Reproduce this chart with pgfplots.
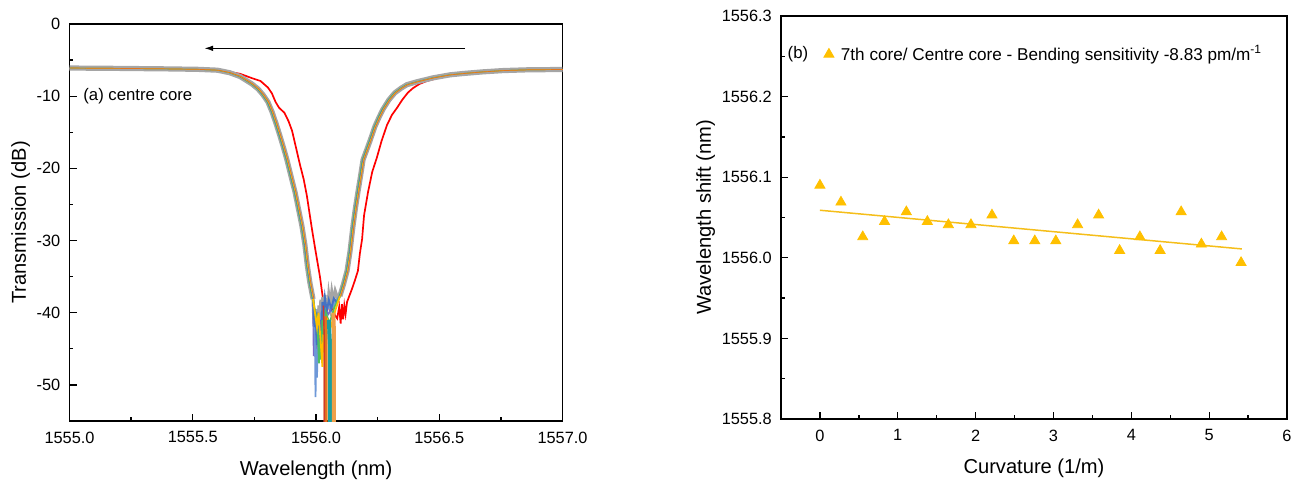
\documentclass[border=0pt]{standalone}
\usepackage{fontspec}
\setmainfont{Liberation Sans}
\usepackage{pgfplots}
\usepackage{pgfplotstable}
\pgfplotsset{compat=1.18}
\usetikzlibrary{arrows.meta}

\definecolor{cGray}{HTML}{A5A5A5}
\definecolor{cRed}{HTML}{FF0000}
\definecolor{cBlue}{HTML}{4472C4}
\definecolor{cLBlue}{HTML}{6E98D8}
\definecolor{cPurple}{HTML}{7A6BC6}
\definecolor{cGreen}{HTML}{4DBF5E}
\definecolor{cYellow}{HTML}{FFC000}
\definecolor{cOrange}{HTML}{E2761C}
\definecolor{cTeal}{HTML}{1A9E9E}
\definecolor{cLOrange}{HTML}{EFA04A}
\definecolor{cDRed}{HTML}{D03A2A}
\definecolor{cMark}{HTML}{FFC000}
\definecolor{cFit}{HTML}{F5BE1A}

\pgfplotsset{markonly legend/.style={legend image code/.code={\draw[##1] plot coordinates {(0bp,0bp)};}}}
\tikzset{majtick/.style={black, line width=0.65bp}}

% main group of spectra, left and right edge of the dip
\pgfplotstableread{
x y
1555.00 -6.10
1555.20 -6.15
1555.40 -6.22
1555.52 -6.28
1555.60 -6.40
1555.65 -6.75
1555.692 -7.28
1555.74 -8.3
1555.765 -9.0
1555.785 -9.8
1555.805 -10.8
1555.822 -12.2
1555.838 -13.8
1555.852 -15.3
1555.867 -17.0
1555.882 -18.8
1555.898 -21.0
1555.915 -23.3
1555.930 -25.8
1555.943 -28.0
1555.955 -30.6
1555.965 -33.5
1555.975 -35.8
1555.988 -38.1
}\leftedge
\pgfplotstableread{
x y
1556.097 -37.7
1556.112 -36.0
1556.126 -34.2
1556.138 -31.5
1556.150 -28.0
1556.160 -25.5
1556.170 -23.3
1556.181 -21.0
1556.191 -18.8
1556.205 -17.5
1556.219 -16.2
1556.239 -14.2
1556.256 -12.9
1556.272 -11.8
1556.296 -10.5
1556.320 -9.53
1556.345 -8.9
1556.369 -8.4
1556.410 -8.0
1556.475 -7.46
1556.544 -7.04
1556.600 -6.85
1556.677 -6.63
1556.760 -6.45
1556.856 -6.35
1557.00 -6.30
}\rightedge
% straight fibre (red)
\pgfplotstableread{
x y
1555.00 -6.12
1555.20 -6.17
1555.40 -6.22
1555.55 -6.28
1555.62 -6.45
1555.692 -6.9
1555.740 -7.5
1555.775 -7.9
1555.805 -8.8
1555.821 -9.6
1555.836 -10.8
1555.850 -11.6
1555.872 -12.3
1555.889 -13.5
1555.903 -14.8
1555.918 -17.0
1555.935 -19.5
1555.950 -21.5
1555.963 -23.8
1555.975 -26.5
1555.984 -28.5
1555.996 -31.0
1556.006 -33.0
1556.016 -35.0
1556.024 -37.0
1556.030 -38.5
1556.036 -39.1
1556.046 -38.6
1556.056 -39.7
1556.066 -39.2
1556.076 -40.3
1556.086 -40.8
1556.094 -39.2
1556.100 -41.5
1556.105 -38.8
1556.110 -40.9
1556.115 -39.0
1556.120 -40.2
1556.126 -38.5
1556.136 -37.6
1556.146 -36.7
1556.158 -35.5
1556.170 -34.2
1556.178 -31.8
1556.187 -29.8
1556.195 -26.5
1556.211 -23.3
1556.228 -20.5
1556.247 -18.5
1556.266 -16.2
1556.288 -14.0
1556.308 -12.6
1556.329 -11.6
1556.350 -10.5
1556.373 -9.5
1556.393 -8.9
1556.420 -8.3
1556.450 -7.9
1556.515 -7.3
1556.600 -6.95
1556.680 -6.70
1556.870 -6.45
1557.00 -6.30
}\redcurve

\begin{document}
\begin{tikzpicture}
\path[use as bounding box] (0,0) rectangle (646.5bp,-240.5bp);

\pgfplotsset{
  every axis/.append style={
    scale only axis,
    anchor=north west,
    /pgf/number format/assume math mode=true,
    tick pos=left,
    tick align=inside,
    major tick length=3.6bp,
    minor tick length=2bp,
    minor x tick num=1,
    minor y tick num=1,
    tick style={black, line width=0.65bp},
    axis line style={line width=0.65bp},
    tick label style={font=\fontsize{8.2}{9.8}\selectfont},
    label style={font=\fontsize{10.1}{12}\selectfont},
    yticklabel style={xshift=-1.1bp},
    xticklabel style={yshift=-1.8bp},
    xlabel style={yshift=-2bp},
    ylabel style={yshift=-3.5bp},
  },
}

% ---------------- (a) ----------------
\begin{axis}[
  at={(34.75bp,-12bp)},
  width=246.5bp, height=198.5bp,
  xmin=1555, xmax=1557, ymin=-55, ymax=0,
  xtick={1555,1555.5,1556,1556.5,1557},
  ytick={-50,-40,-30,-20,-10,0},
  xticklabel style={/pgf/number format/.cd, fixed, fixed zerofill, precision=1, 1000 sep={}},
  xlabel={Wavelength (nm)},
  ylabel={Transmission (dB)},
]
\addplot[cRed, line width=0.85bp] table {\redcurve};

% grey band
\addplot[cGray, line width=2.6bp] table {\leftedge};
\addplot[cGray, line width=2.6bp] table {\rightedge};
\addplot[cGray, line width=1.6bp] coordinates {
(1555.988,-38.1) (1555.992,-41.5) (1555.996,-39.5) (1556.000,-43.5) (1556.004,-40.2)
(1556.008,-42.8) (1556.012,-39.0) (1556.016,-41.0) (1556.020,-38.2) (1556.024,-40.5)
(1556.028,-37.8) (1556.032,-39.8) (1556.036,-37.5) (1556.040,-40.0) (1556.044,-38.0)
(1556.048,-39.5) (1556.052,-37.6) (1556.058,-39.0) (1556.064,-37.2) (1556.070,-38.5)
(1556.078,-37.0) (1556.086,-37.8) (1556.097,-37.7)};

% coloured strands inside the band
\addplot[cGreen, line width=0.35bp, xshift=-0.45bp] table {\leftedge};
\addplot[cGreen, line width=0.35bp, xshift=-0.45bp] table {\rightedge};
\addplot[cBlue, line width=0.35bp, xshift=-0.15bp] table {\leftedge};
\addplot[cBlue, line width=0.35bp, xshift=-0.15bp] table {\rightedge};
\addplot[cYellow, line width=0.35bp, xshift=0.15bp] table {\leftedge};
\addplot[cYellow, line width=0.35bp, xshift=0.15bp] table {\rightedge};
\addplot[cOrange, line width=0.35bp, xshift=0.45bp] table {\leftedge};
\addplot[cOrange, line width=0.35bp, xshift=0.45bp] table {\rightedge};

% noisy bottom of the dip
\addplot[cPurple, line width=0.9bp] coordinates {
(1555.988,-38.1) (1555.991,-46.0) (1555.994,-41.5) (1555.997,-45.2) (1556.002,-40.5)
(1556.006,-46.5) (1556.010,-41.0) (1556.018,-42.5) (1556.030,-39.5) (1556.050,-40.2)
(1556.070,-38.8) (1556.097,-37.7)};
\addplot[cLBlue, line width=0.9bp] coordinates {
(1555.988,-38.1) (1555.996,-44.0) (1555.998,-51.7) (1556.001,-45.0) (1556.004,-49.0)
(1556.008,-42.0) (1556.014,-44.5) (1556.020,-40.5) (1556.030,-41.5) (1556.040,-39.0)
(1556.060,-39.5) (1556.080,-38.4) (1556.097,-37.7)};
\addplot[cBlue, line width=0.9bp] coordinates {
(1555.988,-38.1) (1555.994,-42.0) (1555.998,-39.5) (1556.003,-44.5) (1556.007,-40.0)
(1556.012,-45.5) (1556.016,-41.0) (1556.022,-43.0) (1556.026,-38.5) (1556.030,-40.5)
(1556.036,-37.8) (1556.044,-39.8) (1556.052,-38.2) (1556.062,-39.5) (1556.072,-38.0)
(1556.085,-38.6) (1556.097,-37.7)};
\addplot[cGreen, line width=0.9bp] coordinates {
(1555.988,-38.1) (1556.000,-40.5) (1556.008,-43.0) (1556.012,-47.0) (1556.016,-44.0)
(1556.022,-46.5) (1556.026,-41.0) (1556.034,-43.6) (1556.040,-40.0) (1556.055,-41.5)
(1556.075,-39.2) (1556.097,-37.7)};
\addplot[cYellow, line width=0.9bp] coordinates {
(1555.988,-38.1) (1556.004,-42.0) (1556.010,-40.0) (1556.020,-44.5) (1556.026,-47.5)
(1556.030,-43.0) (1556.038,-45.5) (1556.046,-41.0) (1556.060,-42.0) (1556.080,-39.5)
(1556.097,-37.7)};
\addplot[cOrange, line width=2bp] coordinates {(1556.036,-40.5) (1556.039,-43.0) (1556.039,-60)};
\addplot[cTeal, line width=2bp] coordinates {(1556.052,-41.0) (1556.057,-44.5) (1556.057,-60)};
\addplot[cLOrange, line width=2bp] coordinates {(1556.070,-40.0) (1556.073,-42.8) (1556.073,-60)};
\addplot[cDRed, line width=0.7bp] coordinates {(1556.030,-39.0) (1556.034,-44.0) (1556.034,-60)};

% major ticks (inside)
\draw[majtick] (rel axis cs:0.25,0) -- ([yshift=3.6bp]rel axis cs:0.25,0);
\draw[majtick] (rel axis cs:0.5,0) -- ([yshift=3.6bp]rel axis cs:0.5,0);
\draw[majtick] (rel axis cs:0.75,0) -- ([yshift=3.6bp]rel axis cs:0.75,0);
\draw[majtick] (rel axis cs:0,0.0909) -- ([xshift=3.6bp]rel axis cs:0,0.0909);
\draw[majtick] (rel axis cs:0,0.2727) -- ([xshift=3.6bp]rel axis cs:0,0.2727);
\draw[majtick] (rel axis cs:0,0.4545) -- ([xshift=3.6bp]rel axis cs:0,0.4545);
\draw[majtick] (rel axis cs:0,0.6364) -- ([xshift=3.6bp]rel axis cs:0,0.6364);
\draw[majtick] (rel axis cs:0,0.8182) -- ([xshift=3.6bp]rel axis cs:0,0.8182);

\draw[-{Latex[length=4.5bp,width=2.8bp]}, line width=0.7bp]
  (axis cs:1556.605,-3.37) -- (axis cs:1555.546,-3.37);
\node[anchor=west, font=\fontsize{8.4}{10}\selectfont, inner sep=0pt]
  at (rel axis cs:0.0274,0.819) {(a) centre core};
\end{axis}

% ---------------- (b) ----------------
\begin{axis}[
  at={(390.5bp,-8bp)},
  width=253bp, height=201.5bp,
  xmin=-0.5, xmax=6, ymin=1555.8, ymax=1556.3,
  xtick={0,1,2,3,4,5,6},
  ytick={1555.8,1555.9,1556.0,1556.1,1556.2,1556.3},
  yticklabel style={/pgf/number format/.cd, fixed, fixed zerofill, precision=1, 1000 sep={}},
  xlabel={Curvature (1/m)},
  ylabel={Wavelength shift (nm)},
  legend style={at={(0.084,0.905)}, anchor=west, draw=none, fill=none,
    inner sep=0pt, font=\fontsize{8.6}{10}\selectfont, nodes={inner sep=1bp}},
  legend cell align=left,
]
\addplot[cFit, line width=0.75bp, forget plot] coordinates {(0,1556.059) (5.42,1556.011)};
\addplot[only marks, mark=triangle*, mark size=2.9bp, color=cMark, markonly legend]
  coordinates {
  (0,1556.090) (0.27,1556.069) (0.55,1556.026) (0.83,1556.045) (1.11,1556.057)
  (1.38,1556.045) (1.65,1556.041) (1.94,1556.041) (2.21,1556.053) (2.49,1556.021)
  (2.76,1556.021) (3.03,1556.021) (3.31,1556.041) (3.58,1556.053) (3.85,1556.009)
  (4.11,1556.026) (4.37,1556.009) (4.64,1556.057) (4.90,1556.017) (5.16,1556.026)
  (5.41,1555.994)};
\addlegendentry{\hspace{2.5bp}7th core/ Centre core - Bending sensitivity -8.83 pm/m\textsuperscript{-1}}

% major ticks (inside)
\draw[majtick] (rel axis cs:0.0769,0) -- ([yshift=3.6bp]rel axis cs:0.0769,0);
\draw[majtick] (rel axis cs:0.2308,0) -- ([yshift=3.6bp]rel axis cs:0.2308,0);
\draw[majtick] (rel axis cs:0.3846,0) -- ([yshift=3.6bp]rel axis cs:0.3846,0);
\draw[majtick] (rel axis cs:0.5385,0) -- ([yshift=3.6bp]rel axis cs:0.5385,0);
\draw[majtick] (rel axis cs:0.6923,0) -- ([yshift=3.6bp]rel axis cs:0.6923,0);
\draw[majtick] (rel axis cs:0.8462,0) -- ([yshift=3.6bp]rel axis cs:0.8462,0);
\draw[majtick] (rel axis cs:0,0.2) -- ([xshift=3.6bp]rel axis cs:0,0.2);
\draw[majtick] (rel axis cs:0,0.4) -- ([xshift=3.6bp]rel axis cs:0,0.4);
\draw[majtick] (rel axis cs:0,0.6) -- ([xshift=3.6bp]rel axis cs:0,0.6);
\draw[majtick] (rel axis cs:0,0.8) -- ([xshift=3.6bp]rel axis cs:0,0.8);

\node[anchor=west, font=\fontsize{8.4}{10}\selectfont, inner sep=0pt]
  at (rel axis cs:0.0125,0.905) {(b)};
\end{axis}
\end{tikzpicture}
\end{document}
